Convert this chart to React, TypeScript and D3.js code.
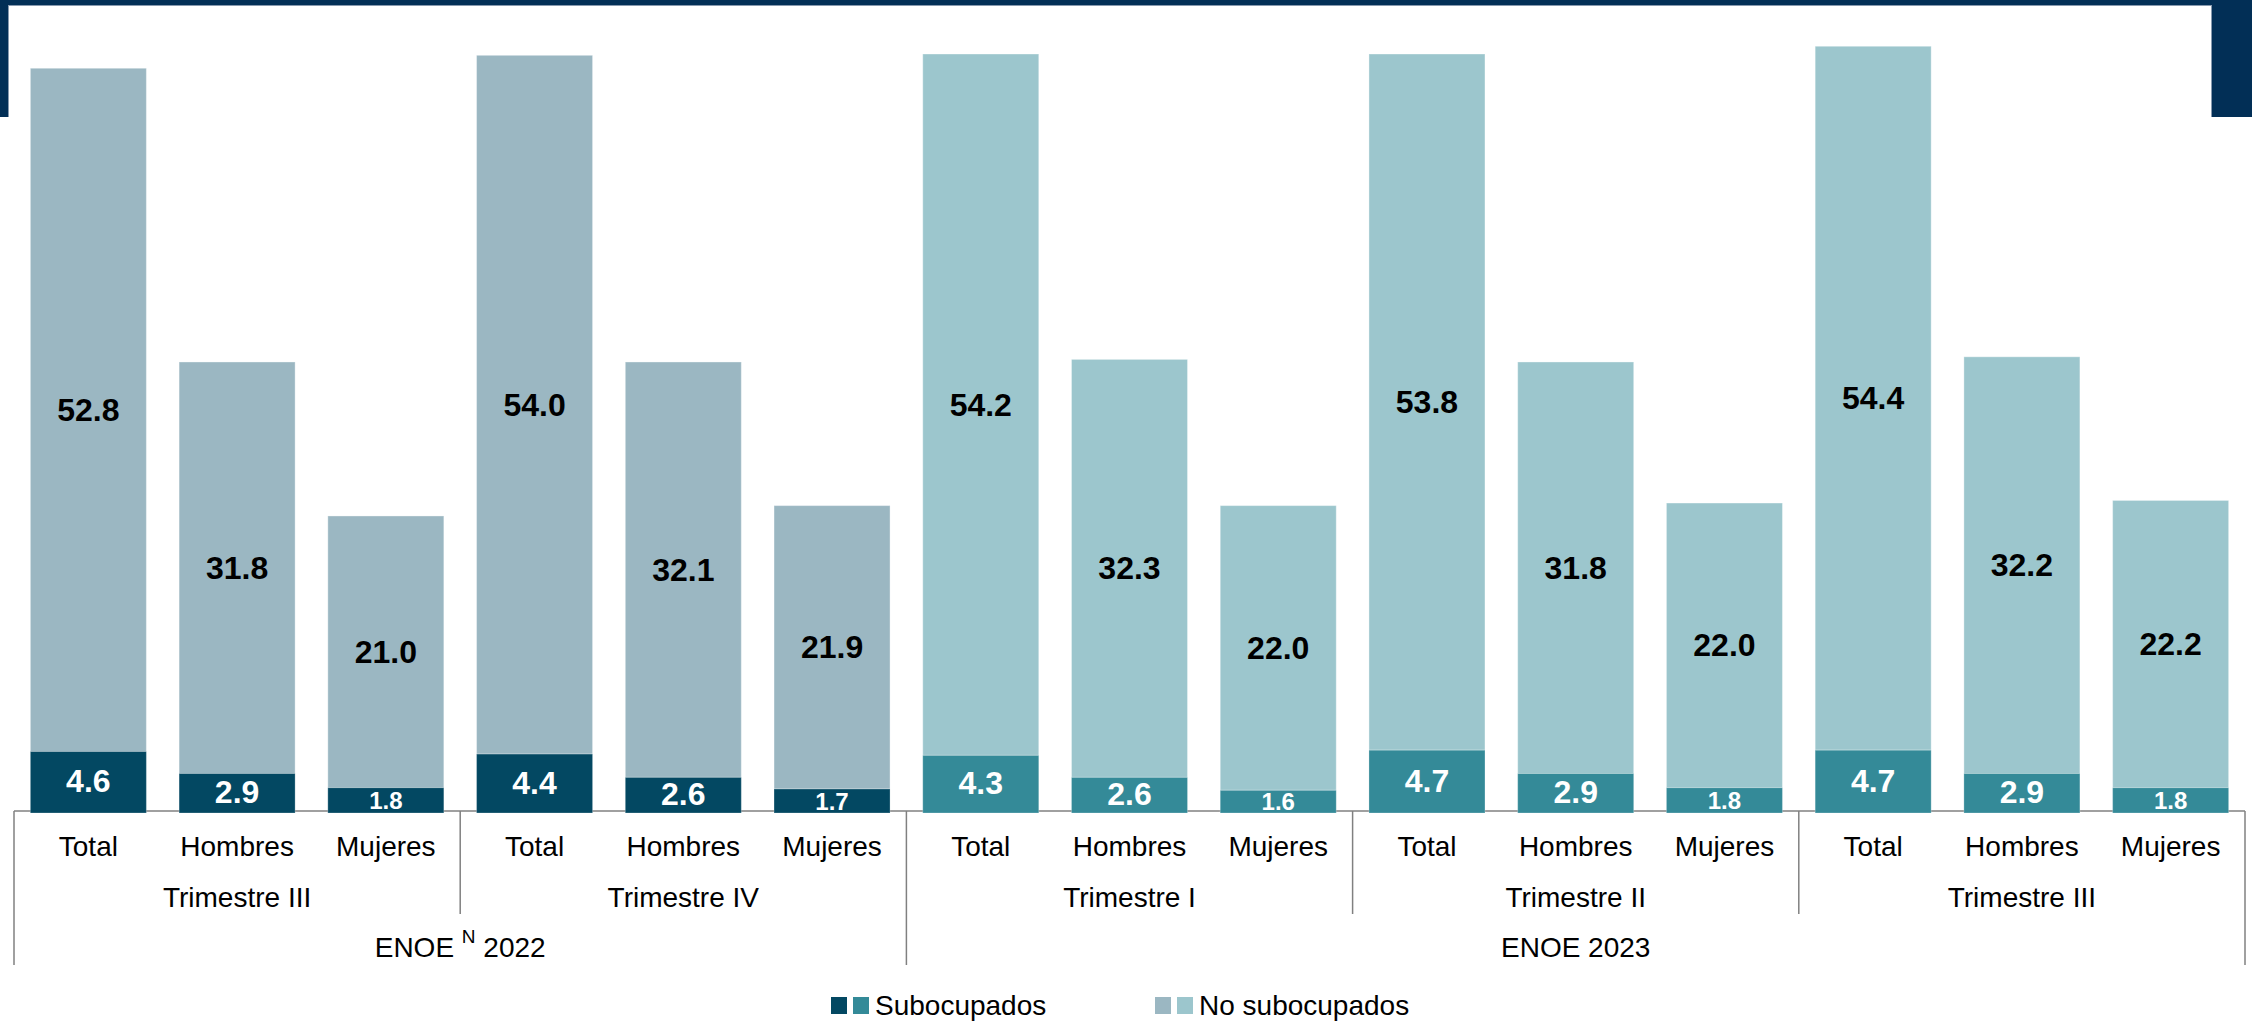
import React from "react";
import * as d3 from "d3";

const categories = ["Total", "Hombres", "Mujeres", "Total", "Hombres", "Mujeres", "Total", "Hombres", "Mujeres", "Total", "Hombres", "Mujeres", "Total", "Hombres", "Mujeres"];
const trimesters = ["Trimestre III", "Trimestre IV", "Trimestre I", "Trimestre II", "Trimestre III"];
const trimesterYear = [0, 0, 1, 1, 1];
const yearLabels = ["ENOE", "ENOE 2023"];
const subocupados = [4.6, 2.9, 1.8, 4.4, 2.6, 1.7, 4.3, 2.6, 1.6, 4.7, 2.9, 1.8, 4.7, 2.9, 1.8];
const noSubocupados = [52.8, 31.8, 21.0, 54.0, 32.1, 21.9, 54.2, 32.3, 22.0, 53.8, 31.8, 22.0, 54.4, 32.2, 22.2];
const subColors = ["#034862", "#348a98"];
const noSubColors = ["#9bb7c2", "#9cc6cd"];
const legendLabels = ["Subocupados", "No subocupados"];

const W = 2252;
const H = 1021;
const FONT = "'Liberation Sans', Arial, Helvetica, sans-serif";

export default function App() {
  const x0 = 14;
  const x1 = 2245;
  const base = 811;
  const x = d3.scaleBand<number>().domain(d3.range(categories.length)).range([x0, x1]).paddingInner(0.22).paddingOuter(0.11);
  const y = d3.scaleLinear().domain([0, 60]).range([base, base - 60 * 12.94]);
  const step = x.step();
  const bandStart = (i: number) => x0 + i * ((x1 - x0) / categories.length);
  const catW = (x1 - x0) / categories.length;

  const yearOf = (i: number) => trimesterYear[Math.floor(i / 3)];

  // year spans
  const yearSpans = yearLabels.map((_, yi) => {
    const idx = trimesterYear.map((t, k) => (t === yi ? k : -1)).filter((k) => k >= 0);
    const s = idx[0] * 3;
    const e = (idx[idx.length - 1] + 1) * 3;
    return { s, e };
  });

  return (
    <svg width={W} height={H} style={{ position: "absolute", left: 0, top: 0, background: "#fff" }} fontFamily={FONT}>
      {/* header decoration */}
      <rect x={0} y={0} width={W} height={5} fill="#022f56" />
      <line x1={8} x2={2212} y1={5.5} y2={5.5} stroke="#8799ae" strokeWidth={1} />
      <rect x={0} y={0} width={8} height={117} fill="#022f56" />
      <line x1={8.5} x2={8.5} y1={5} y2={117} stroke="#8799ae" strokeWidth={1} />
      <rect x={2212} y={0} width={40} height={117} fill="#022f56" />
      <line x1={2211.5} x2={2211.5} y1={5} y2={117} stroke="#8799ae" strokeWidth={1} />

      {/* axis baseline */}
      <line x1={x0} x2={x1} y1={base} y2={base} stroke="#808080" strokeWidth={1.5} />

      {/* bars */}
      {categories.map((c, i) => {
        const yr = yearOf(i);
        const bx = x(i)!;
        const bw = x.bandwidth();
        const s = subocupados[i];
        const n = noSubocupados[i];
        const ySubTop = y(s);
        const yTop = y(s + n);
        const small = s < 2;
        return (
          <g key={i}>
            <rect x={bx} y={yTop} width={bw} height={ySubTop - yTop} fill={noSubColors[yr]} stroke="#ffffff" strokeOpacity={0.35} strokeWidth={1} />
            <rect x={bx} y={ySubTop} width={bw} height={base - ySubTop + 2} fill={subColors[yr]} stroke="#ffffff" strokeOpacity={0.25} strokeWidth={1} />
            <text x={bx + bw / 2} y={(yTop + ySubTop) / 2} textAnchor="middle" dominantBaseline="central" fontWeight="bold" fontSize={32} fill="#000">
              {n.toFixed(1)}
            </text>
            <text x={bx + bw / 2} y={(ySubTop + base) / 2 + (small ? 1 : 0)} textAnchor="middle" dominantBaseline="central" fontWeight="bold" fontSize={small ? 24 : 32} fill="#fff">
              {s.toFixed(1)}
            </text>
            <text x={bandStart(i) + catW / 2} y={856} textAnchor="middle" fontSize={28} fill="#000">
              {c}
            </text>
          </g>
        );
      })}

      {/* trimester labels and separators */}
      {trimesters.map((t, k) => (
        <text key={"t" + k} x={bandStart(k * 3) + catW * 1.5} y={907} textAnchor="middle" fontSize={28} fill="#000">
          {t}
        </text>
      ))}
      {d3.range(1, trimesters.length).map((k) => {
        const isYear = trimesterYear[k] !== trimesterYear[k - 1];
        const xx = bandStart(k * 3);
        return <line key={"s" + k} x1={xx} x2={xx} y1={base} y2={isYear ? 965 : 914} stroke="#808080" strokeWidth={1.5} />;
      })}
      <line x1={x0} x2={x0} y1={base} y2={965} stroke="#808080" strokeWidth={1.5} />
      <line x1={x1} x2={x1} y1={base} y2={965} stroke="#808080" strokeWidth={1.5} />

      {/* year labels */}
      {yearSpans.map((sp, yi) => {
        const cx = (bandStart(sp.s) + bandStart(sp.e)) / 2;
        if (yi === 0) {
          return (
            <text key={"y" + yi} x={cx} y={957} textAnchor="middle" fontSize={28} fill="#000">
              {"ENOE "}
              <tspan fontSize={19} dy={-14}>N</tspan>
              <tspan dy={14}>{" 2022"}</tspan>
            </text>
          );
        }
        return (
          <text key={"y" + yi} x={cx} y={957} textAnchor="middle" fontSize={28} fill="#000">
            {yearLabels[yi]}
          </text>
        );
      })}

      {/* legend */}
      <g>
        <rect x={831} y={997} width={16} height={17} fill={subColors[0]} />
        <rect x={853} y={997} width={16} height={17} fill={subColors[1]} />
        <text x={875} y={1015} fontSize={28} fill="#000">{legendLabels[0]}</text>
        <rect x={1155} y={997} width={16} height={17} fill={noSubColors[0]} />
        <rect x={1177} y={997} width={16} height={17} fill={noSubColors[1]} />
        <text x={1199} y={1015} fontSize={28} fill="#000">{legendLabels[1]}</text>
      </g>
    </svg>
  );
}
